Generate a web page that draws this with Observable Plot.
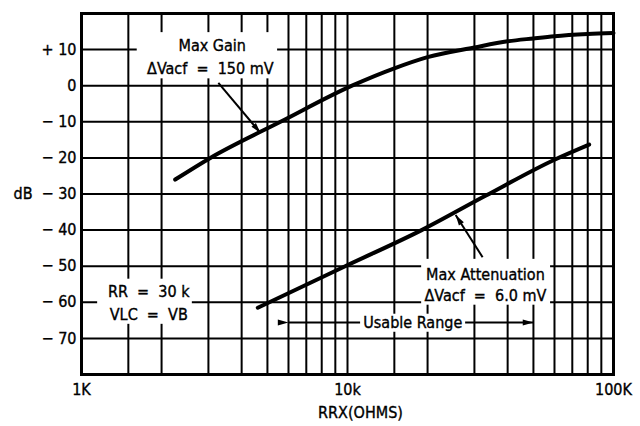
<!DOCTYPE html>
<html>
<head>
<meta charset="utf-8">
<script src="https://cdn.jsdelivr.net/npm/d3@7"></script>
<script src="https://cdn.jsdelivr.net/npm/@observablehq/plot@0.6"></script>
<style>
  html, body { margin: 0; padding: 0; background: #fff; }
  #chart svg { display: block; }
  #chart svg text { stroke: black; stroke-width: 0.35px; }
</style>
</head>
<body>
<div id="chart"></div>
<script>
// ---- data ----
const gridX = [1500, 2000, 3000, 4000, 5000, 6000, 7000, 8000, 9000, 10000, 15000, 20000, 30000, 40000, 50000, 60000, 70000, 80000, 90000];
const gridY = [-70, -60, -50, -40, -30, -20, -10, 0, 10];
const xTickValues = [1000, 10000, 100000];
const xTickLabels = ["1K", "10k", "100K"];

const maxGainX = [2250, 3050, 5600, 10400, 15000, 20000, 30000, 40000, 50000, 60000, 80000, 100000];
const maxGainDb = [-26, -20, -10, 0, 4.8, 7.9, 10.6, 12.3, 13.1, 13.7, 14.3, 14.6];

const maxAttX = [4600, 9800, 19000, 33000, 60000, 81000];
const maxAttDb = [-61.5, -50, -40, -30.5, -20.5, -16.3];

// annotations (data coordinates)
const labelTexts = ["Max Gain", "\u0394Vacf  =  150 mV", "RR  =  30 k", "VLC  =  VB", "Max Attenuation", "\u0394Vacf  =  6.0 mV", "Usable Range"];
const labelX = [3100, 3050, 1790, 1790, 33000, 33000, 17600];
const labelY = [11.1, 4.6, -57.2, -63.6, -52.5, -58.3, -65.6];

const boxX1 = [1620, 1150, 19000, 11200];
const boxX2 = [5460, 2610, 58000, 27800];
const boxY1 = [1.9, -66.1, -60.8, -68.3];
const boxY2 = [14.7, -53.6, -48.1, -63.3];

const arrowX1 = [3270, 32200];
const arrowY1 = [0.8, -47.5];
const arrowX2 = [4710, 25500];
const arrowY2 = [-13.1, -35.8];

const rangeX1 = [6000];
const rangeX2 = [50000];
const rangeY = [-65.6];

// ---- build ----
const font = "'DejaVu Sans Condensed', 'Liberation Sans Narrow', sans-serif";
const gain = maxGainX.map((x, i) => ({x, y: maxGainDb[i]}));
const att = maxAttX.map((x, i) => ({x, y: maxAttDb[i]}));
const labels = labelTexts.map((t, i) => ({t, x: labelX[i], y: labelY[i]}));
const boxes = boxX1.map((x1, i) => ({x1, x2: boxX2[i], y1: boxY1[i], y2: boxY2[i]}));
const arrows = arrowX1.map((x1, i) => ({x1, y1: arrowY1[i], x2: arrowX2[i], y2: arrowY2[i]}));
const ranges = rangeX1.map((x1, i) => ({x1, x2: rangeX2[i], y: rangeY[i]}));

const fmtY = d => d > 0 ? "+ " + d : d < 0 ? "\u2212 " + (-d) : "0";
const FS = 16;

const chart = Plot.plot({
  width: 640,
  height: 426,
  marginTop: 13,
  marginRight: 27,
  marginBottom: 52,
  marginLeft: 81,
  style: {fontFamily: font, fontSize: FS + "px", color: "black", background: "white"},
  x: {type: "log", domain: [1000, 100000]},
  y: {domain: [-80, 20]},
  marks: [
    Plot.ruleX(gridX, {stroke: "black", strokeWidth: 2}),
    Plot.ruleY(gridY, {stroke: "black", strokeWidth: 2}),
    Plot.link(ranges, {x1: "x1", x2: "x2", y1: "y", y2: "y", stroke: "black", strokeWidth: 2, markerStart: "arrow", markerEnd: "arrow"}),
    Plot.rect(boxes, {x1: "x1", x2: "x2", y1: "y1", y2: "y2", fill: "white"}),
    Plot.line(gain, {x: "x", y: "y", stroke: "black", strokeWidth: 4, curve: "monotone-x", strokeLinecap: "round"}),
    Plot.line(att, {x: "x", y: "y", stroke: "black", strokeWidth: 4, curve: "monotone-x", strokeLinecap: "round"}),
    Plot.link(arrows, {x1: "x1", y1: "y1", x2: "x2", y2: "y2", stroke: "black", strokeWidth: 2, markerEnd: "arrow"}),
    Plot.text(labels, {x: "x", y: "y", text: "t", fill: "black", fontSize: FS, textAnchor: "middle", lineAnchor: "middle"}),
    Plot.frame({stroke: "black", strokeWidth: 3}),
    Plot.axisY({ticks: gridY, tickFormat: fmtY, tickSize: 0, tickPadding: 5, label: null, fontSize: FS}),
    Plot.axisX({ticks: xTickValues, tickFormat: d => xTickLabels[xTickValues.indexOf(d)], tickSize: 0, tickPadding: 9, label: null, fontSize: FS}),
    Plot.text(["dB"], {frameAnchor: "left", y: [-30], text: d => d, dx: -68, textAnchor: "start", fontSize: FS}),
    Plot.text(["RRX(OHMS)"], {frameAnchor: "bottom", text: d => d, dy: 43, dx: 13, fontSize: FS})
  ]
});

// filled, elongated arrowheads
chart.querySelectorAll("marker").forEach(m => {
  m.setAttribute("overflow", "visible");
  m.setAttribute("fill", "black");
  m.setAttribute("stroke", "none");
  const p = m.querySelector("path");
  if (p) p.setAttribute("d", "M-8,-2.2L0,0L-8,2.2Z");
});

document.getElementById("chart").appendChild(chart);
</script>
</body>
</html>
